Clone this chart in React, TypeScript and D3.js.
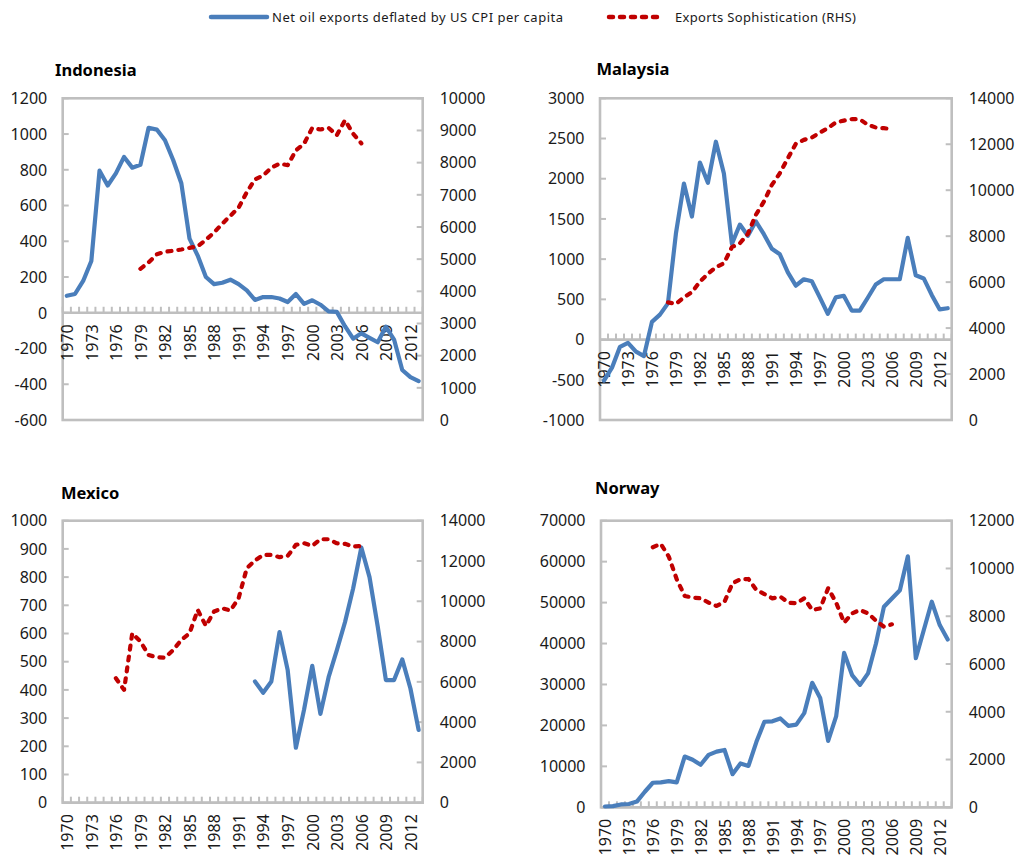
import React from 'react';
import * as d3 from 'd3';

// ---------- DATA ----------
const YEARS: number[] = d3.range(1970, 2014);
const X_TICK_LABELS: number[] = [1970, 1973, 1976, 1979, 1982, 1985, 1988, 1991, 1994, 1997, 2000, 2003, 2006, 2009, 2012];

const N = null;

const indonesiaOil: (number | null)[] = [
  95, 105, 178, 290, 795, 712, 780, 872, 812, 828,
  1035, 1025, 965, 855, 725, 415, 320, 200, 160, 168,
  185, 160, 125, 72, 88, 88, 80, 60, 105, 50,
  70, 45, 8, 5, -75, -145, -115, -140, -165, -78,
  -150, -320, -360, -382,
];
const indonesiaSoph: (number | null)[] = [
  N, N, N, N, N, N, N, N, N, 4700,
  4900, 5150, 5230, 5260, 5300, 5350, 5400, 5600, 5830, 6100,
  6350, 6600, 7080, 7480, 7600, 7840, 7970, 7920, 8380, 8590,
  9080, 9030, 9080, 8850, 9320, 8900, 8600, N, N, N,
  N, N, N, N,
];

const malaysiaOil: (number | null)[] = [
  -510, -350, -90, -40, -150, -205, 220, 310, 450, 1320,
  1940, 1530, 2200, 1950, 2460, 2065, 1190, 1430, 1290, 1470,
  1310, 1130, 1060, 835, 670, 750, 725, 525, 320, 525,
  545, 360, 360, 520, 685, 750, 750, 750, 1265, 800,
  760, 555, 375, 390,
];
const malaysiaSoph: (number | null)[] = [
  N, N, N, N, N, N, N, N, 5120, 5050,
  5340, 5560, 6020, 6360, 6650, 6820, 7520, 7690, 8100, 8930,
  9500, 10230, 10740, 11390, 12020, 12190, 12290, 12510, 12700, 12950,
  13030, 13090, 13090, 12845, 12730, 12700, 12660, N, N, N,
  N, N, N, N,
];

const mexicoOil: (number | null)[] = [
  N, N, N, N, N, N, N, N, N, N,
  N, N, N, N, N, N, N, N, N, N,
  N, N, N, 430, 390, 430, 605, 470, 195, 330,
  485, 315, 445, 540, 640, 760, 905, 800, 625, 435,
  435, 508, 405, 258,
];
const mexicoSoph: (number | null)[] = [
  N, N, N, N, N, N, 6180, 5600, 8410, 8000,
  7330, 7220, 7200, 7580, 8080, 8410, 9570, 8780, 9490, 9650,
  9540, 10150, 11640, 12020, 12300, 12300, 12190, 12250, 12800, 12880,
  12750, 13080, 13080, 12880, 12850, 12715, 12750, N, N, N,
  N, N, N, N,
];

const norwayOil: (number | null)[] = [
  200, 300, 700, 800, 1400, 3800, 6000, 6100, 6400, 6100,
  12400, 11600, 10400, 12800, 13600, 14000, 8100, 10700, 10100, 16000,
  20900, 21000, 21700, 19900, 20200, 23000, 30400, 26700, 16200, 22200,
  37700, 32300, 29900, 32700, 40000, 49000, 51000, 53000, 61300, 36400,
  43300, 50200, 44500, 41000,
];
const norwaySoph: (number | null)[] = [
  N, N, N, N, N, N, 10890, 11030, 10500, 9550,
  8850, 8780, 8750, 8570, 8430, 8610, 9380, 9550, 9560, 9100,
  8930, 8750, 8820, 8570, 8540, 8750, 8260, 8330, 9170, 8570,
  7730, 8120, 8260, 8120, 7815, 7560, 7660, N, N, N,
  N, N, N, N,
];

const indonesiaLeftTicks = [-600, -400, -200, 0, 200, 400, 600, 800, 1000, 1200];
const indonesiaRightTicks = [0, 1000, 2000, 3000, 4000, 5000, 6000, 7000, 8000, 9000, 10000];
const malaysiaLeftTicks = [-1000, -500, 0, 500, 1000, 1500, 2000, 2500, 3000];
const malaysiaRightTicks = [0, 2000, 4000, 6000, 8000, 10000, 12000, 14000];
const mexicoLeftTicks = [0, 100, 200, 300, 400, 500, 600, 700, 800, 900, 1000];
const mexicoRightTicks = [0, 2000, 4000, 6000, 8000, 10000, 12000, 14000];
const norwayLeftTicks = [0, 10000, 20000, 30000, 40000, 50000, 60000, 70000];
const norwayRightTicks = [0, 2000, 4000, 6000, 8000, 10000, 12000];

const SERIES_NAMES = ['Net oil exports deflated by US CPI per capita', 'Exports Sophistication (RHS)'];

// ---------- STYLE / LAYOUT ----------
const BLUE = '#4A7EBB';
const RED = '#C00000';
const GRAY = '#BFBFBF';
const TEXT = '#1a1a1a';
const FONT = '"Noto Sans", "Open Sans", sans-serif';
const DASH = '4 7';

interface PanelCfg {
  title: string;
  titleX: number;
  titleY: number;
  x0: number; x1: number; y0: number; y1: number;
  oil: (number | null)[];
  soph: (number | null)[];
  leftTicks: number[];
  rightTicks: number[];
}

const PANELS: PanelCfg[] = [
  { title: 'Indonesia', titleX: 55, titleY: 76, x0: 62.7, x1: 422.7, y0: 98.3, y1: 420,
    oil: indonesiaOil, soph: indonesiaSoph, leftTicks: indonesiaLeftTicks, rightTicks: indonesiaRightTicks },
  { title: 'Malaysia', titleX: 596.5, titleY: 74.5, x0: 600, x1: 951.7, y0: 98.3, y1: 420,
    oil: malaysiaOil, soph: malaysiaSoph, leftTicks: malaysiaLeftTicks, rightTicks: malaysiaRightTicks },
  { title: 'Mexico', titleX: 61, titleY: 499, x0: 62.7, x1: 422.7, y0: 520.7, y1: 802.7,
    oil: mexicoOil, soph: mexicoSoph, leftTicks: mexicoLeftTicks, rightTicks: mexicoRightTicks },
  { title: 'Norway', titleX: 595, titleY: 493.5, x0: 601, x1: 951.7, y0: 520.7, y1: 807.3,
    oil: norwayOil, soph: norwaySoph, leftTicks: norwayLeftTicks, rightTicks: norwayRightTicks },
];

function Panel({ cfg }: { cfg: PanelCfg }) {
  const { x0, x1, y0, y1 } = cfg;
  const x = d3.scaleBand<number>().domain(YEARS).range([x0, x1]).padding(0);
  const bw = x.bandwidth();
  const cx = (yr: number) => (x(yr) as number) + bw / 2;
  const lExt = d3.extent(cfg.leftTicks) as [number, number];
  const rExt = d3.extent(cfg.rightTicks) as [number, number];
  const yL = d3.scaleLinear().domain(lExt).range([y1, y0]);
  const yR = d3.scaleLinear().domain(rExt).range([y1, y0]);
  const zeroY = yL(0);

  const oilLine = d3.line<number | null>()
    .defined((d) => d != null)
    .x((_, i) => cx(YEARS[i]))
    .y((d) => yL(d as number));
  const sophLine = d3.line<number | null>()
    .defined((d) => d != null)
    .x((_, i) => cx(YEARS[i]))
    .y((d) => yR(d as number));

  const boundaries = d3.range(0, YEARS.length + 1).map((i) => x0 + i * bw);

  return (
    <g>
      <text x={cfg.titleX} y={cfg.titleY} fontFamily={FONT} fontWeight="bold" fontSize={16.5} fill="#000">
        {cfg.title}
      </text>
      <rect x={x0} y={y0} width={x1 - x0} height={y1 - y0} fill="none" stroke={GRAY} strokeWidth={2.6} />
      {cfg.leftTicks.map((v) => (
        <g key={'l' + v}>
          <line x1={x0} x2={x0 + 6} y1={yL(v)} y2={yL(v)} stroke={GRAY} strokeWidth={2} />
          <text x={x0 - 15.5} y={yL(v)} dy="0.36em" textAnchor="end" fontFamily={FONT} fontSize={16} fill={TEXT}>
            {v}
          </text>
        </g>
      ))}
      {cfg.rightTicks.map((v) => (
        <g key={'r' + v}>
          <line x1={x1 - 6} x2={x1} y1={yR(v)} y2={yR(v)} stroke={GRAY} strokeWidth={2} />
          <text x={x1 + 17} y={yR(v)} dy="0.36em" textAnchor="start" fontFamily={FONT} fontSize={16} fill={TEXT}>
            {v}
          </text>
        </g>
      ))}
      <line x1={x0} x2={x1} y1={zeroY} y2={zeroY} stroke={GRAY} strokeWidth={2.6} />
      {boundaries.map((bx, i) => (
        <line key={'b' + i} x1={bx} x2={bx} y1={zeroY} y2={zeroY - 6} stroke={GRAY} strokeWidth={2} />
      ))}
      {X_TICK_LABELS.map((yr) => (
        <text
          key={'x' + yr}
          transform={`translate(${cx(yr) + 0.5},${zeroY + 11.5}) rotate(-90)`}
          dy="0.36em"
          textAnchor="end"
          fontFamily={FONT}
          fontSize={16}
          fill={TEXT}
        >
          {yr}
        </text>
      ))}
      <path d={oilLine(cfg.oil) || ''} fill="none" stroke={BLUE} strokeWidth={4.2} strokeLinejoin="round" strokeLinecap="round" />
      <path d={sophLine(cfg.soph) || ''} fill="none" stroke={RED} strokeWidth={4.2} strokeLinejoin="round" strokeLinecap="round" strokeDasharray={DASH} />
    </g>
  );
}

export default function App() {
  return (
    <svg
      width={1019}
      height={859}
      viewBox="0 0 1019 859"
      style={{ position: 'absolute', left: 0, top: 0, background: '#fff' }}
    >
      <rect x={0} y={0} width={1019} height={859} fill="#fff" />
      <line x1={211} x2={267} y1={17} y2={17} stroke={BLUE} strokeWidth={4.5} strokeLinecap="round" />
      <text x={272} y={21.5} fontFamily={FONT} fontSize={13} fill={TEXT} textLength={291} lengthAdjust="spacing">
        {SERIES_NAMES[0]}
      </text>
      <line x1={609} x2={664} y1={17} y2={17} stroke={RED} strokeWidth={4.5} strokeLinecap="round" strokeDasharray={DASH} />
      <text x={675} y={21.5} fontFamily={FONT} fontSize={13} fill={TEXT} textLength={181} lengthAdjust="spacing">
        {SERIES_NAMES[1]}
      </text>
      {PANELS.map((p) => (
        <Panel key={p.title} cfg={p} />
      ))}
    </svg>
  );
}
